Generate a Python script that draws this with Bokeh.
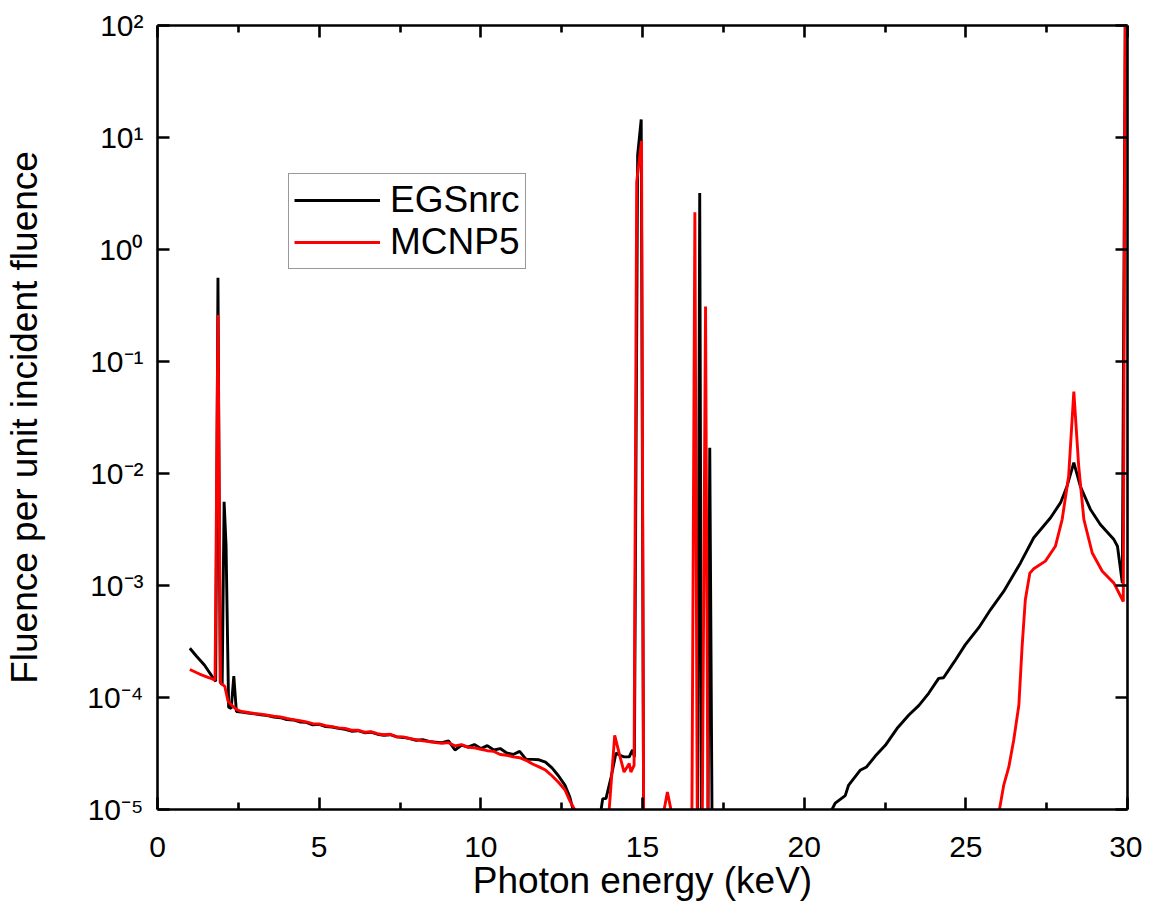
from bokeh.plotting import figure
from bokeh.models import FixedTicker, LinearAxis, LogAxis, Legend, LegendItem, Range1d
from bokeh.embed import file_html
from bokeh.resources import INLINE

# ---------------- data ----------------
egs_energy = [1.00, 1.20, 1.45, 1.75, 1.80, 1.87, 1.94, 2.00, 2.06, 2.12, 2.20, 2.28, 2.36, 2.44,
              2.6, 2.8, 3.0, 3.2, 3.4, 3.6, 3.8, 4.0, 4.2, 4.4, 4.6, 4.8, 5.0, 5.2, 5.4, 5.6, 5.8,
              6.0, 6.2, 6.4, 6.6, 6.8, 7.0, 7.2, 7.4, 7.6, 7.8, 8.0, 8.2, 8.4, 8.6, 8.8, 9.0, 9.2,
              9.4, 9.6, 9.8, 10.0, 10.2, 10.4, 10.6, 10.8, 11.0, 11.2, 11.4, 11.6, 11.8, 12.0, 12.2,
              12.4, 12.6, 12.75, 12.85, 12.95, 13.68, 13.72, 13.77, 13.87, 14.03, 14.18, 14.30, 14.43,
              14.59, 14.69, 14.75, 14.85, 14.96, 15.04, 16.70, 16.77, 16.83, 17.02, 17.08, 17.16,
              20.80, 20.86, 20.96, 21.27, 21.37, 21.73, 21.93, 22.20, 22.51, 22.87, 23.23, 23.55,
              23.85, 24.16, 24.31, 24.65, 24.98, 25.40, 25.76, 26.17, 26.69, 27.10, 27.62, 27.93,
              28.13, 28.34, 28.54, 28.85, 29.16, 29.58, 29.69, 29.84, 29.93]
egs_fluence = [2.75e-4, 2.35e-4, 1.95e-4, 1.45e-4, 1.40e-4, 0.56, 1.37e-4, 1.30e-4, 5.6e-3, 2.3e-3,
               8.2e-5, 8.0e-5, 1.55e-4, 7.5e-5,
               7.4e-5, 7.25e-5, 7.15e-5, 7.0e-5, 6.9e-5, 6.7e-5, 6.6e-5, 6.35e-5, 6.3e-5, 6.05e-5,
               6.0e-5, 5.7e-5, 5.75e-5, 5.5e-5, 5.45e-5, 5.3e-5, 5.2e-5,
               5.0e-5, 5.05e-5, 4.85e-5, 4.9e-5, 4.7e-5, 4.6e-5, 4.65e-5, 4.45e-5, 4.4e-5, 4.3e-5,
               4.15e-5, 4.2e-5, 4.05e-5, 4.0e-5, 3.95e-5, 4.1e-5, 3.4e-5,
               3.75e-5, 3.6e-5, 3.8e-5, 3.5e-5, 3.72e-5, 3.4e-5, 3.5e-5, 3.2e-5, 3.1e-5, 3.3e-5,
               2.8e-5, 2.8e-5, 2.78e-5, 2.65e-5, 2.35e-5,
               2.0e-5, 1.65e-5, 1.3e-5, 1.0e-5, 4e-6, 4e-6, 1.0e-5, 1.25e-5, 1.25e-5, 1.95e-5,
               3.2e-5, 3.05e-5, 2.95e-5,
               2.95e-5, 3.4e-5, 2.95e-5, 7.0, 14.5, 3e-6, 3e-6, 3.2, 3e-6, 3e-6, 0.017, 3e-6,
               3e-6, 1.0e-5, 1.14e-5, 1.33e-5, 1.64e-5, 2.24e-5, 2.4e-5, 3.0e-5, 3.74e-5, 5.28e-5,
               6.95e-5, 8.5e-5,
               1.09e-4, 1.48e-4, 1.5e-4, 2.1e-4, 2.95e-4, 4.2e-4, 6.07e-4, 8.85e-4, 1.59e-3,
               2.67e-3, 4.03e-3, 5.49e-3,
               7.7e-3, 0.0125, 7.7e-3, 4.8e-3, 3.5e-3, 2.57e-3, 2.24e-3, 1.05e-3, 100.0]

mcnp_energy = [1.00, 1.30, 1.60, 1.78, 1.87, 1.95, 2.08, 2.18, 2.30, 2.45,
               2.6, 2.8, 3.0, 3.2, 3.4, 3.6, 3.8, 4.0, 4.2, 4.4, 4.6, 4.8, 5.0, 5.2, 5.4, 5.6, 5.8,
               6.0, 6.2, 6.4, 6.6, 6.8, 7.0, 7.2, 7.4, 7.6, 7.8, 8.0, 8.2, 8.4, 8.6, 8.8, 9.0, 9.2,
               9.4, 9.6, 9.8, 10.0, 10.2, 10.4, 10.6, 10.8, 11.0, 11.2, 11.4, 11.6, 11.8, 12.0, 12.2,
               12.4, 12.6, 12.75, 12.9, 13.0, 13.92, 13.97, 14.14, 14.30, 14.43, 14.59, 14.64, 14.74,
               14.82, 14.97, 15.04, 15.62, 15.67, 15.77, 15.88, 15.92, 16.52, 16.62, 16.70, 16.84,
               16.95, 17.03, 26.00, 26.04, 26.17, 26.33, 26.48, 26.64, 26.74, 26.84, 26.98, 27.10,
               27.46, 27.77, 27.98, 28.18, 28.34, 28.49, 28.65, 28.91, 29.22, 29.58, 29.87, 29.93]
mcnp_fluence = [1.78e-4, 1.62e-4, 1.5e-4, 1.43e-4, 0.26, 1.35e-4, 1.26e-4, 9.3e-5, 8.5e-5, 7.8e-5,
                7.5e-5, 7.35e-5, 7.2e-5, 7.1e-5, 6.95e-5, 6.8e-5, 6.7e-5, 6.5e-5, 6.35e-5, 6.2e-5,
                6.05e-5, 5.85e-5, 5.8e-5, 5.6e-5, 5.5e-5, 5.35e-5, 5.3e-5,
                5.1e-5, 5.1e-5, 4.9e-5, 4.95e-5, 4.75e-5, 4.65e-5, 4.7e-5, 4.45e-5, 4.45e-5, 4.3e-5,
                4.2e-5, 4.1e-5, 4.05e-5, 3.95e-5, 3.9e-5, 3.95e-5, 3.7e-5,
                3.8e-5, 3.6e-5, 3.55e-5, 3.45e-5, 3.35e-5, 3.3e-5, 3.1e-5, 3.05e-5, 2.95e-5, 2.9e-5,
                2.75e-5, 2.55e-5, 2.4e-5, 2.25e-5, 2.0e-5,
                1.75e-5, 1.5e-5, 1.2e-5, 1.0e-5, 4e-6, 4e-6, 1.0e-5, 4.6e-5, 3.0e-5, 2.16e-5, 2.57e-5,
                2.16e-5, 2.48e-5,
                4.0, 9.3, 3e-6, 3e-6, 1.0e-5, 1.43e-5, 1.0e-5, 3e-6, 3e-6, 2.15, 3e-6, 3e-6,
                0.31, 3e-6, 8e-6, 1.0e-5, 1.64e-5, 2.4e-5, 4.15e-5, 8.55e-5, 2.85e-4, 7.46e-4,
                1.29e-3, 1.41e-3,
                1.65e-3, 2.24e-3, 3.9e-3, 9.5e-3, 0.054, 0.0117, 3.9e-3, 1.95e-3, 1.34e-3, 1.05e-3,
                7.2e-4, 100.0]

series_names = ["EGSnrc", "MCNP5"]
x_ticks = [0, 5, 10, 15, 20, 25, 30]
x_minor_ticks = [2.5, 7.5, 12.5, 17.5, 22.5, 27.5]
y_ticks = [1e-5, 1e-4, 1e-3, 1e-2, 1e-1, 1e0, 1e1, 1e2]
y_tick_labels = ["10\u207b\u2075", "10\u207b\u2074", "10\u207b\u00b3", "10\u207b\u00b2",
                 "10\u207b\u00b9", "10\u2070", "10\u00b9", "10\u00b2"]
x_title = "Photon energy (keV)"
y_title = "Fluence per unit incident fluence"

FONT = "Liberation Sans"

p = figure(frame_width=970, frame_height=784,
           x_range=Range1d(0, 30), y_range=Range1d(1e-5, 1e2), y_axis_type="log",
           output_backend="svg", toolbar_location=None,
           min_border_left=157, min_border_right=15, min_border_top=25, min_border_bottom=90)
p.background_fill_color = "white"
p.border_fill_color = "white"
p.outline_line_color = None
p.grid.visible = False

r1 = p.line(egs_energy, egs_fluence, line_color="black", line_width=2.9)
r2 = p.line(mcnp_energy, mcnp_fluence, line_color="#ff0000", line_width=2.9)

xt = FixedTicker(ticks=x_ticks, minor_ticks=x_minor_ticks)
yt = FixedTicker(ticks=y_ticks, minor_ticks=[])


def style(ax):
    ax.axis_line_width = 2.6
    ax.axis_line_color = "black"
    ax.major_tick_line_width = 2.6
    ax.minor_tick_line_width = 2.6
    ax.major_tick_in = 12
    ax.major_tick_out = 0
    ax.minor_tick_in = 7
    ax.minor_tick_out = 0
    ax.major_label_text_font = FONT
    ax.major_label_text_font_size = "30px"
    ax.major_label_text_color = "black"
    ax.axis_label_text_font = FONT
    ax.axis_label_text_font_size = "37px"
    ax.axis_label_text_font_style = "normal"
    ax.axis_label_text_color = "black"


p.xaxis.ticker = xt
p.yaxis.ticker = yt
style(p.xaxis[0])
style(p.yaxis[0])
p.xaxis.axis_label = x_title
p.yaxis.axis_label = y_title
p.xaxis.major_label_standoff = 27
p.xaxis.axis_label_standoff = 0
p.yaxis.major_label_standoff = 14
p.yaxis.axis_label_standoff = 39
p.yaxis.major_label_overrides = {t: s for t, s in zip(y_ticks, y_tick_labels)}

top = LinearAxis(ticker=xt, major_label_overrides={t: "" for t in x_ticks})
style(top)
top.major_label_standoff = 0
p.add_layout(top, "above")
right = LogAxis(ticker=yt, major_label_overrides={t: "" for t in y_ticks})
style(right)
right.major_label_standoff = 0
p.add_layout(right, "right")

legend = Legend(items=[LegendItem(label=series_names[0], renderers=[r1]),
                       LegendItem(label=series_names[1], renderers=[r2])],
                location=(131, 540))
legend.label_text_font = FONT
legend.label_text_font_size = "37px"
legend.label_text_color = "black"
legend.glyph_width = 86
legend.glyph_height = 36
legend.label_height = 36
legend.label_standoff = 10
legend.padding = 5
legend.spacing = 0
legend.margin = 0
legend.border_line_color = "#333333"
legend.border_line_width = 1.5
legend.background_fill_alpha = 1.0
p.add_layout(legend)

open("out.html", "w").write(file_html(p, INLINE))
